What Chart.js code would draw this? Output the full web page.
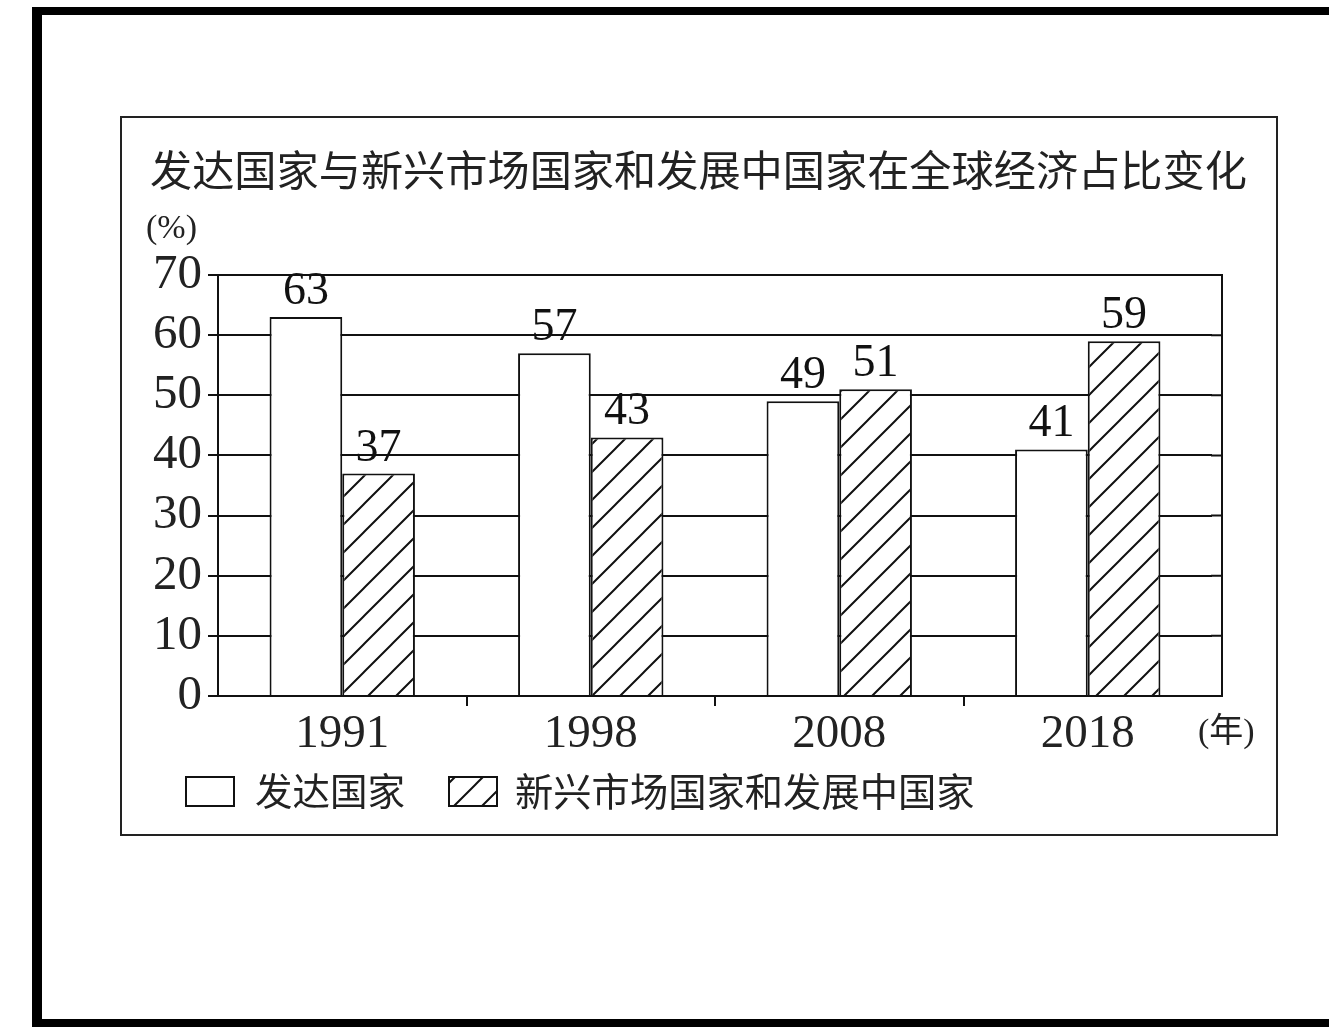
<!DOCTYPE html>
<html>
<head>
<meta charset="utf-8">
<script src="https://cdn.jsdelivr.net/npm/chart.js@4.4.1/dist/chart.umd.min.js"></script>
<style>
  html, body { margin: 0; padding: 0; background: #fff; overflow: hidden; }
  #page { position: relative; width: 1329px; height: 1027px; }
  .outer { position: absolute; left: 32px; top: 7px; width: 1400px; height: 1004px;
           border: 10px solid #000; border-top-width: 8px; border-bottom-width: 8px; border-right: none; }
  .inner { position: absolute; left: 120px; top: 116px; width: 1154px; height: 716px; border: 2px solid #222; }
  canvas { position: absolute; left: 0; top: 0; }
</style>
</head>
<body>
<div id="page">
  <div class="outer"></div>
  <div class="inner"></div>
  <canvas id="chart" width="1329" height="1027"></canvas>
</div>
<script>
/* ---- Data ---- */
const years = ['1991', '1998', '2008', '2018'];
const developed = [63, 57, 49, 41];
const emerging = [37, 43, 51, 59];
const seriesNames = ['发达国家', '新兴市场国家和发展中国家'];
const yTicks = [0, 10, 20, 30, 40, 50, 60, 70];

const chartTitle = '发达国家与新兴市场国家和发展中国家在全球经济占比变化';
const yUnit = '(%)';
const xUnit = '(年)';

const SERIF = '"Liberation Serif", "Times New Roman", "Noto Sans CJK SC", serif';
const CJK = '"Noto Sans CJK SC", "Liberation Serif", serif';

/* ---- Hatch pattern ---- */
function makeHatch() {
  const s = 28;
  const c = document.createElement('canvas');
  c.width = s; c.height = s;
  const g = c.getContext('2d');
  g.fillStyle = '#fff';
  g.fillRect(0, 0, s, s);
  g.strokeStyle = '#111';
  g.lineWidth = 2;
  g.beginPath();
  g.moveTo(-2, s + 2); g.lineTo(s + 2, -2);
  g.moveTo(-4, 4); g.lineTo(4, -4);
  g.moveTo(s - 4, s + 4); g.lineTo(s + 4, s - 4);
  g.stroke();
  return g.createPattern(c, 'repeat');
}
const hatch = makeHatch();

// fit a text run to a given width by picking the font size
function fitFont(ctx, text, family, size, width) {
  ctx.font = size + 'px ' + family;
  const w = ctx.measureText(text).width;
  return (size * width / w).toFixed(1) + 'px ' + family;
}

/* ---- The plot box runs a little past the last category ---- */
const FRAME_EXTRA = 10;

const frameExtension = {
  id: 'frameExtension',
  beforeDatasetsDraw(chart) {
    const { ctx, chartArea, scales } = chart;
    ctx.save();
    ctx.strokeStyle = '#111';
    ctx.lineWidth = 2;
    ctx.beginPath();
    yTicks.forEach((v) => {
      const y = scales.y.getPixelForValue(v);
      ctx.moveTo(chartArea.right - 1, y);
      ctx.lineTo(chartArea.right + FRAME_EXTRA, y);
    });
    ctx.moveTo(chartArea.right + FRAME_EXTRA, chartArea.top - 1);
    ctx.lineTo(chartArea.right + FRAME_EXTRA, chartArea.bottom + 1);
    ctx.stroke();
    ctx.restore();
  }
};

/* ---- Extras: title, units, legend, value labels ---- */
const decorations = {
  id: 'decorations',
  afterDatasetsDraw(chart) {
    const { ctx } = chart;
    ctx.save();

    // value labels above bars
    ctx.fillStyle = '#111';
    ctx.font = '46px ' + SERIF;
    ctx.textAlign = 'center';
    ctx.textBaseline = 'bottom';
    chart.data.datasets.forEach((ds, i) => {
      chart.getDatasetMeta(i).data.forEach((bar, j) => {
        ctx.fillText(String(ds.data[j]), bar.x, bar.y - 2);
      });
    });

    // title
    ctx.textAlign = 'left';
    ctx.textBaseline = 'middle';
    ctx.font = fitFont(ctx, chartTitle, CJK, 46, 1098);
    ctx.fillStyle = '#222';
    ctx.fillText(chartTitle, 150, 170);

    // units
    ctx.font = '34px ' + SERIF;
    ctx.fillText(yUnit, 146, 229);
    ctx.fillText(xUnit, 1198, 733);

    // legend
    const legendBoxes = [
      { x: 186, fill: '#fff', textX: 255, width: 150 },
      { x: 449, fill: hatch, textX: 515, width: 460 }
    ];
    chart.data.datasets.forEach((ds, i) => {
      const b = legendBoxes[i];
      ctx.fillStyle = b.fill;
      ctx.fillRect(b.x, 777, 48, 29);
      ctx.strokeStyle = '#111';
      ctx.lineWidth = 2;
      ctx.strokeRect(b.x, 777, 48, 29);
      ctx.fillStyle = '#222';
      ctx.font = fitFont(ctx, ds.label, CJK, 38, b.width);
      ctx.fillText(ds.label, b.textX, 791);
    });

    ctx.restore();
  }
};

new Chart(document.getElementById('chart'), {
  type: 'bar',
  data: {
    labels: years,
    datasets: [
      {
        label: seriesNames[0],
        data: developed,
        backgroundColor: '#fff',
        borderColor: '#111',
        borderWidth: 2,
        barPercentage: 1,
        categoryPercentage: 0.585
      },
      {
        label: seriesNames[1],
        data: emerging,
        backgroundColor: hatch,
        borderColor: '#111',
        borderWidth: 2,
        barPercentage: 1,
        categoryPercentage: 0.585
      }
    ]
  },
  options: {
    responsive: false,
    animation: false,
    devicePixelRatio: 1,
    layout: { padding: { left: 0, right: 117, top: 275, bottom: 251 } },
    plugins: {
      legend: { display: false },
      title: { display: false },
      tooltip: { enabled: false }
    },
    scales: {
      x: {
        afterFit(s) { s.height = 80; },
        grid: {
          drawOnChartArea: false,
          drawTicks: true,
          tickLength: 10,
          lineWidth: 2,
          // only the ticks between categories, none at the box edges
          color: (c) => (c.index === 0 || c.tick === undefined ? 'rgba(0,0,0,0)' : '#111')
        },
        border: { display: true, color: '#111', width: 2 },
        ticks: {
          color: '#222',
          padding: 0,
          autoSkip: false,
          maxRotation: 0,
          font: { family: SERIF, size: 47 }
        }
      },
      y: {
        min: 0,
        max: 70,
        afterFit(s) { s.width = 218; },
        afterBuildTicks(s) { s.ticks = yTicks.map((v) => ({ value: v })); },
        grid: { color: '#111', lineWidth: 2, tickLength: 10 },
        border: { display: true, color: '#111', width: 2 },
        ticks: {
          color: '#222',
          padding: 6,
          autoSkip: false,
          font: { family: SERIF, size: 49, lineHeight: 1 }
        }
      }
    }
  },
  plugins: [frameExtension, decorations]
});
</script>
</body>
</html>
